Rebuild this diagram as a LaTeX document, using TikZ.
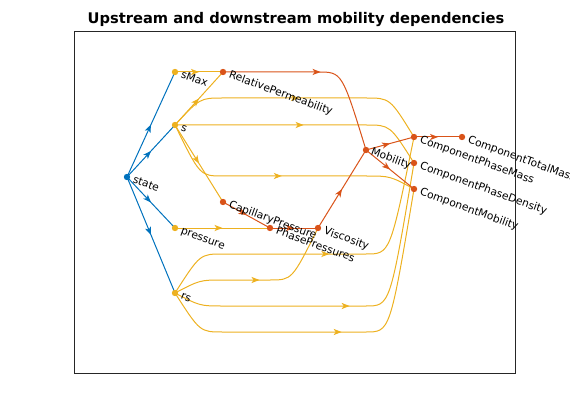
\documentclass[tikz,border=0pt]{standalone}
\usepackage{fontspec}
\setmainfont{DejaVu Sans}
\usetikzlibrary{arrows.meta,decorations.markings,backgrounds}
\definecolor{mblue}{rgb}{0,0.447,0.741}
\definecolor{mred}{rgb}{0.85,0.325,0.098}
\definecolor{myel}{rgb}{0.929,0.694,0.125}
\definecolor{axgray}{rgb}{0.15,0.15,0.15}
\begin{document}
\begin{tikzpicture}[x=0.75pt,y=-0.75pt,
  vert/.style={circle,inner sep=0pt,minimum size=4.8pt},
  lbl/.style={font=\fontsize{8}{9}\selectfont,anchor=base west,rotate=-20,inner sep=0pt},
  edge/.style={line width=0.75pt,postaction={decorate},
    decoration={markings,mark=at position 0.5 with {\arrow{Stealth[length=6pt,width=4.6pt,inset=1.6pt]}}}}]
\useasboundingbox (0,0) rectangle (570,420);
% title
\node[font=\fontsize{11}{13}\selectfont\bfseries,anchor=base,inner sep=0pt] (title) at (296,23.5) {Upstream and downstream mobility dependencies};
% vertices
\node[vert,fill=mblue] (state) at (127,177) {};
\node[vert,fill=myel] (smax) at (175,72) {};
\node[vert,fill=myel] (s) at (175,125) {};
\node[vert,fill=myel] (pressure) at (175,228) {};
\node[vert,fill=myel] (rs) at (175,293) {};
\node[vert,fill=mred] (relperm) at (223,72) {};
\node[vert,fill=mred] (capp) at (223,202) {};
\node[vert,fill=mred] (phasep) at (270,228) {};
\node[vert,fill=mred] (visc) at (318,228) {};
\node[vert,fill=mred] (mob) at (366,150) {};
\node[vert,fill=mred] (cpm) at (414,137) {};
\node[vert,fill=mred] (cpd) at (414,163) {};
\node[vert,fill=mred] (cmob) at (414,189) {};
\node[vert,fill=mred] (ctm) at (462,137) {};
% labels
\node[lbl] (lstate) at ([shift={(5,5.5)}]state.center) {state};
\node[lbl] (lsmax) at ([shift={(5,5.5)}]smax.center) {sMax};
\node[lbl] (ls) at ([shift={(5,5.5)}]s.center) {s};
\node[lbl] (lpressure) at ([shift={(5,5.5)}]pressure.center) {pressure};
\node[lbl] (lrs) at ([shift={(5,5.5)}]rs.center) {rs};
\node[lbl] (lrelperm) at ([shift={(5,5.5)}]relperm.center) {RelativePermeability};
\node[lbl] (lcapp) at ([shift={(5,5.5)}]capp.center) {CapillaryPressure};
\node[lbl] (lphasep) at ([shift={(5,5.5)}]phasep.center) {PhasePressures};
\node[lbl] (lvisc) at ([shift={(5,5.5)}]visc.center) {Viscosity};
\node[lbl] (lmob) at ([shift={(4,4.5)}]mob.center) {Mobility};
\node[lbl] (lcpm) at ([shift={(5,5.5)}]cpm.center) {ComponentPhaseMass};
\node[lbl] (lcpd) at ([shift={(5,5.5)}]cpd.center) {ComponentPhaseDensity};
\node[lbl] (lcmob) at ([shift={(5,5.5)}]cmob.center) {ComponentMobility};
\node[lbl] (lctm) at ([shift={(5,5.5)}]ctm.center) {ComponentTotalMass};
\begin{pgfonlayer}{background}
\draw[axgray,line width=0.5pt] (74,31) rectangle (515,373);
% blue
\draw[edge,mblue] (state.center) -- (smax.center);
\draw[edge,mblue] (state.center) -- (s.center);
\draw[edge,mblue] (state.center) -- (pressure.center);
\draw[edge,mblue] (state.center) -- (rs.center);
% yellow
\draw[edge,myel] (smax.center) -- (relperm.center);
\draw[edge,myel] (s.center) -- (relperm.center);
\draw[edge,myel] (s.center) .. controls (200,98) .. (223,98) -- (366,98) .. controls (390,98) .. (cpm.center);
\draw[edge,myel] (s.center) -- (366,125) .. controls (390,125) .. (cpd.center);
\draw[edge,myel] (s.center) -- (capp.center);
\draw[edge,myel] (s.center) .. controls (200,176) .. (223,176) -- (366,176) .. controls (390,176) .. (cmob.center);
\draw[edge,myel] (pressure.center) -- (phasep.center);
\draw[edge,myel] (rs.center) .. controls (200,280) .. (223,280) -- (270,280) .. controls (292,280) .. (visc.center);
\draw[edge,myel] (rs.center) .. controls (200,254) .. (223,254) -- (366,254) .. controls (390,254) .. (cpm.center);
\draw[edge,myel] (rs.center) .. controls (200,306) .. (223,306) -- (366,306) .. controls (390,306) .. (cpd.center);
\draw[edge,myel] (rs.center) .. controls (200,332) .. (223,332) -- (366,332) .. controls (390,332) .. (cmob.center);
% red
\draw[edge,mred] (relperm.center) -- (318,72) .. controls (342,72) .. (mob.center);
\draw[edge,mred] (capp.center) -- (phasep.center);
\draw[edge,mred] (phasep.center) -- (visc.center);
\draw[edge,mred] (visc.center) -- (mob.center);
\draw[edge,mred] (mob.center) -- (cpm.center);
\draw[edge,mred] (mob.center) -- (cmob.center);
\draw[edge,mred] (cpm.center) -- (ctm.center);
\end{pgfonlayer}
\end{tikzpicture}
\end{document}
